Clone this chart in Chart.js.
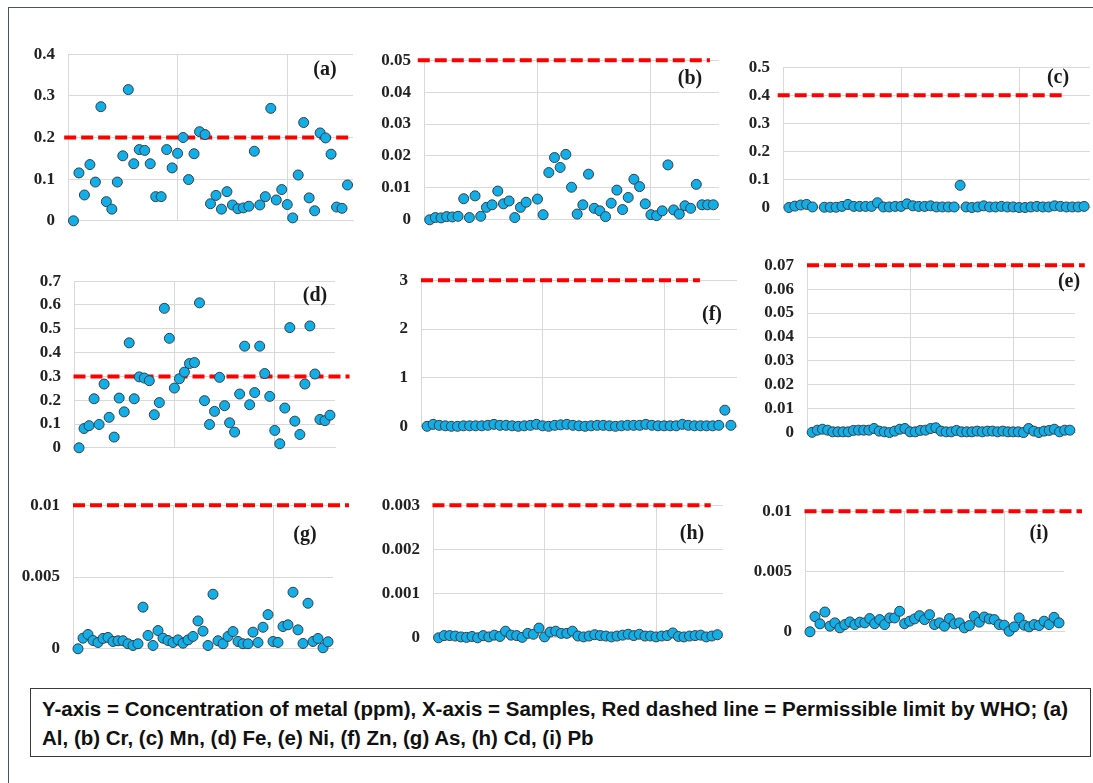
<!DOCTYPE html>
<html>
<head>
<meta charset="utf-8">
<script src="https://cdn.jsdelivr.net/npm/chart.js@4.4.1/dist/chart.umd.min.js"></script>
<style>
  body { margin: 0; background: #fff; width: 1093px; height: 783px; overflow: hidden; position: relative; }
  .frame { position: absolute; left: 8px; top: 7px; width: 1100px; height: 800px; border-top: 1.5px solid #44546a; border-left: 1.5px solid #44546a; }
  .panel { position: absolute; }
  .tag { position: absolute; transform: translate(-50%, -50%); font: bold 20px "Liberation Serif", "Times New Roman", serif; color: #1a1a1a; }
  .caption { position: absolute; left: 30px; top: 688px; width: 1061px; height: 69px; border: 1.5px solid #3a3a3a; box-sizing: border-box;
             padding: 6px 0 0 11px; font: bold 20px "Liberation Sans", Arial, sans-serif; line-height: 29px; color: #111; }
  .caption span { display: block; white-space: nowrap; transform-origin: 0 50%; width: max-content; }
</style>
</head>
<body>
<div class="frame"></div>
<div class="caption"><span id="cap1">Y-axis = Concentration of metal (ppm), X-axis = Samples, Red dashed line = Permissible limit by WHO; (a)</span><span id="cap2">Al, (b) Cr, (c) Mn, (d) Fe, (e) Ni, (f) Zn, (g) As, (h) Cd, (i) Pb</span></div>
<script>
// sample numbers on the x axis
const samples = Array.from({ length: 51 }, (_, i) => i + 1);

// metal concentrations (ppm), one value per sample; null = not measured
const al = [0, 0.115, 0.062, 0.135, 0.093, 0.274, 0.046, 0.028, 0.093, 0.156, 0.315, 0.137, 0.171, 0.169, 0.137, 0.058, 0.058,
  0.171, 0.127, 0.162, 0.2, 0.099, 0.161, 0.214, 0.207, 0.041, 0.061, 0.028, 0.07, 0.038, 0.029, 0.031, 0.035, 0.167,
  0.038, 0.058, 0.27, 0.05, 0.075, 0.039, 0.007, 0.11, 0.236, 0.055, 0.024, 0.211, 0.199, 0.16, 0.033, 0.03, 0.086];
const cr = [0, 0.0007, 0.0006, 0.001, 0.0009, 0.0011, 0.0066, 0.0007, 0.0075, 0.0011, 0.0039, 0.0047, 0.009, 0.005, 0.0059,
  0.0007, 0.0039, 0.0055, null, 0.0065, 0.0016, 0.0148, 0.0195, 0.0164, 0.0205, 0.0102, 0.0018, 0.0047, 0.0143, 0.0036,
  0.0028, 0.001, 0.0052, 0.0093, 0.0032, 0.007, 0.0127, 0.0104, 0.005, 0.0016, 0.0013, 0.0028, 0.0172, 0.0031, 0.0018,
  0.0044, 0.0036, 0.0111, 0.0047, 0.0047, 0.0047];
const mn = [0.001, 0.006, 0.01, 0.012, 0.003, null, 0.002, 0.002, 0.002, 0.005, 0.012, 0.005, 0.005, 0.005, 0.005, 0.018,
  0.003, 0.003, 0.005, 0.005, 0.014, 0.007, 0.005, 0.005, 0.007, 0.003, 0.003, 0.003, 0.003, 0.08, 0.003, 0.001, 0.003,
  0.007, 0.003, 0.003, 0.005, 0.003, 0.003, 0.001, 0.001, 0.003, 0.005, 0.003, 0.003, 0.007, 0.005, 0.003, 0.003, 0.003, 0.005];
const fe = [0, 0.081, 0.093, 0.206, 0.098, 0.268, 0.128, 0.045, 0.209, 0.151, 0.441, 0.206, 0.298, 0.293, 0.282, 0.139, 0.19,
  0.586, 0.46, 0.251, 0.29, 0.318, 0.354, 0.358, 0.609, 0.198, 0.098, 0.153, 0.296, 0.177, 0.105, 0.066, 0.226, 0.427,
  0.181, 0.232, 0.427, 0.312, 0.216, 0.073, 0.017, 0.167, 0.505, 0.112, 0.056, 0.268, 0.512, 0.31, 0.119, 0.114, 0.137];
const ni = [0.0002, 0.0011, 0.0015, 0.0011, 0.0004, 0.0004, 0.0004, 0.0004, 0.001, 0.0011, 0.0011, 0.0011, 0.0018, 0.0007,
  0.0004, 0.0001, 0.0007, 0.0015, 0.0018, 0.0004, 0.0004, 0.001, 0.0011, 0.0018, 0.0021, 0.0007, 0.0004, 0.0004, 0.001,
  0.0004, 0.0004, 0.0004, 0.0007, 0.0004, 0.0007, 0.0007, 0.0004, 0.0007, 0.0004, 0.0004, 0.0004, 0.0001, 0.0018, 0.0007,
  0.0001, 0.0007, 0.001, 0.0015, 0.0004, 0.0011, 0.0011];
const zn = [0.01, 0.05, 0.03, 0.02, 0.01, 0.01, 0.02, 0.02, 0.02, 0.02, 0.03, 0.05, 0.03, 0.03, 0.02, 0.01, 0.02, 0.03, 0.05,
  0.02, 0.01, 0.03, 0.04, 0.05, 0.03, 0.02, 0.01, 0.02, 0.03, 0.03, 0.02, 0.01, 0.02, 0.03, 0.03, 0.03, 0.05, 0.03, 0.02,
  0.02, 0.02, 0.02, 0.05, 0.03, 0.02, 0.02, 0.02, 0.02, 0.03, 0.34, 0.03];
const as = [0, 0.00074, 0.001, 0.00058, 0.00044, 0.00072, 0.00079, 0.00051, 0.00056, 0.00056, 0.00035, 0.00023, 0.00035,
  0.0029, 0.00093, 0.00023, 0.00127, 0.00074, 0.00058, 0.00044, 0.00062, 0.00039, 0.00062, 0.00086, 0.00194, 0.00123,
  0.00023, 0.0038, 0.00056, 0.00035, 0.00086, 0.0012, 0.00051, 0.00035, 0.00035, 0.00116, 0.00044, 0.0015, 0.00238,
  0.00051, 0.00044, 0.00155, 0.00167, 0.00394, 0.00132, 0.00037, 0.00317, 0.00051, 0.00072, 0.00007, 0.00049];
const cd = [0, 0.00005, 0.00005, 0.00004, 0.00002, 0.00001, 0.00003, 0, 0.00005, 0.00002, 0.00006, 0.00003, 0.00015, 0.00006,
  0.00005, 0.00001, 0.0001, 0.00008, 0.00022, 0.00002, 0.00013, 0.00015, 0.0001, 0.0001, 0.00015, 0.00004, 0.00002, 0.00004,
  0.00007, 0.00005, 0.00004, 0.00002, 0.00004, 0.00006, 0.00008, 0.00005, 0.00008, 0.00004, 0.00004, 0.00002, 0.00004,
  0.00005, 0.00011, 0.00003, 0.00002, 0.00004, 0.00005, 0.00006, 0.00002, 0.00004, 0.00007];
const pb = [0, 0.00126, 0.00066, 0.00164, 0.00047, 0.00074, 0.00033, 0.0006, 0.00082, 0.0006, 0.0008, 0.00074, 0.0011, 0.00068,
  0.00101, 0.0006, 0.00115, 0.00115, 0.0017, 0.00068, 0.00088, 0.00107, 0.00134, 0.00101, 0.00142, 0.0006, 0.00074, 0.00047,
  0.0011, 0.00066, 0.00074, 0.00033, 0.00052, 0.00129, 0.0008, 0.00123, 0.00107, 0.00101, 0.0006, 0.00055, 0.00005, 0.00041,
  0.00115, 0.00055, 0.00041, 0.0006, 0.00052, 0.00088, 0.0006, 0.0012, 0.00074];

// panels in reading order: (a) (b) (c) / (d) (f) (e) / (g) (h) (i)
const tags = ['(a)', '(b)', '(c)', '(d)', '(f)', '(e)', '(g)', '(h)', '(i)'];
const series = [al, cr, mn, fe, zn, ni, as, cd, pb];
const whoLimit = [0.2, 0.05, 0.4, 0.3, 3, 0.07, 0.01, 0.003, 0.01];
const limitFrom = [-0.7, -1.1, -0.9, -0.1, 0, 0, 0, -0.1, -0.1];
const limitTo = [51.8, 50.4, 47.5, 54.9, 45.9, 53.9, 55.2, 49.8, 55.6];
const yMax = [0.4, 0.05, 0.5, 0.7, 3, 0.07, 0.01, 0.003, 0.01];
const yStep = [0.1, 0.01, 0.1, 0.1, 1, 0.01, 0.005, 0.001, 0.005];

// plot rectangles [left, top, right, bottom] and tag centres
const boxes = [
  [68, 54, 353, 221], [424, 60, 719, 220], [783, 67, 1090, 208],
  [74, 281, 335, 448], [421, 280, 737, 427], [807, 265, 1075, 433],
  [73, 505, 333, 649], [433, 505, 723, 638], [805, 511, 1064, 632]
];
const tagPos = [[325, 68], [690, 77], [1058, 76], [315, 294], [712, 313], [1069, 280], [305, 533], [692, 532], [1039, 532]];

const Y_W = 62, PAD_T = 12, PAD_B = 12, PAD_R = 24;
const GRID = '#d9d9d9';

function panelConfig(i) {
  return {
    type: 'scatter',
    data: {
      datasets: [
        {
          data: samples.map((s, k) => ({ x: s, y: series[i][k] })),
          backgroundColor: '#12aee8',
          borderColor: '#333f48',
          borderWidth: 1,
          pointRadius: 5,
          clip: false
        },
        {
          data: [{ x: limitFrom[i], y: whoLimit[i] }, { x: limitTo[i], y: whoLimit[i] }],
          showLine: true,
          borderColor: '#ff0000',
          borderWidth: 4,
          borderDash: [12, 5],
          borderCapStyle: 'butt',
          pointRadius: 0,
          clip: false
        }
      ]
    },
    options: {
      responsive: false,
      maintainAspectRatio: false,
      animation: false,
      events: [],
      layout: { padding: { top: PAD_T, bottom: PAD_B, right: PAD_R, left: 0 } },
      plugins: { legend: { display: false }, tooltip: { enabled: false } },
      scales: {
        x: {
          type: 'linear', min: 0, max: 52,
          afterFit: s => { s.height = 0; },
          ticks: { display: false, stepSize: 20, includeBounds: false },
          grid: { color: GRID, drawTicks: false },
          border: { color: GRID }
        },
        y: {
          min: 0, max: yMax[i],
          afterFit: s => { s.width = Y_W; },
          ticks: {
            stepSize: yStep[i], padding: 13, color: '#222',
            font: { family: '"Liberation Serif", "Times New Roman", serif', weight: 'bold', size: 17 },
            callback: v => String(+v.toFixed(4))
          },
          grid: { color: GRID, drawTicks: false },
          border: { color: GRID }
        }
      }
    }
  };
}

function makePanel(i) {
  const b = boxes[i];
  const wrap = document.createElement('div');
  wrap.className = 'panel';
  const canvas = document.createElement('canvas');
  let w = b[2] - b[0] + Y_W + PAD_R, h = b[3] - b[1] + PAD_T + PAD_B;
  canvas.width = w;
  canvas.height = h;
  wrap.appendChild(canvas);
  document.body.appendChild(wrap);

  // first pass tells how much room the axes took; grow the canvas so the plot area gets its size
  let chart = new Chart(canvas, panelConfig(i));
  let ca = chart.chartArea;
  const dw = Math.round((b[2] - b[0]) - (ca.right - ca.left));
  const dh = Math.round((b[3] - b[1]) - (ca.bottom - ca.top));
  if (dw || dh) {
    chart.destroy();
    canvas.width = w + dw;
    canvas.height = h + dh;
    chart = new Chart(canvas, panelConfig(i));
    ca = chart.chartArea;
  }
  wrap.style.left = (b[0] - ca.left) + 'px';
  wrap.style.top = (b[1] - ca.top) + 'px';

  const tag = document.createElement('div');
  tag.className = 'tag';
  tag.textContent = tags[i];
  tag.style.left = tagPos[i][0] + 'px';
  tag.style.top = tagPos[i][1] + 'px';
  document.body.appendChild(tag);
}

for (let i = 0; i < 9; i++) makePanel(i);

// squeeze the caption lines to the narrow bold face width
const cap1 = document.getElementById('cap1'), cap2 = document.getElementById('cap2');
const k = 1026 / cap1.getBoundingClientRect().width;
cap1.style.transform = cap2.style.transform = 'scaleX(' + k + ')';
</script>
</body>
</html>
